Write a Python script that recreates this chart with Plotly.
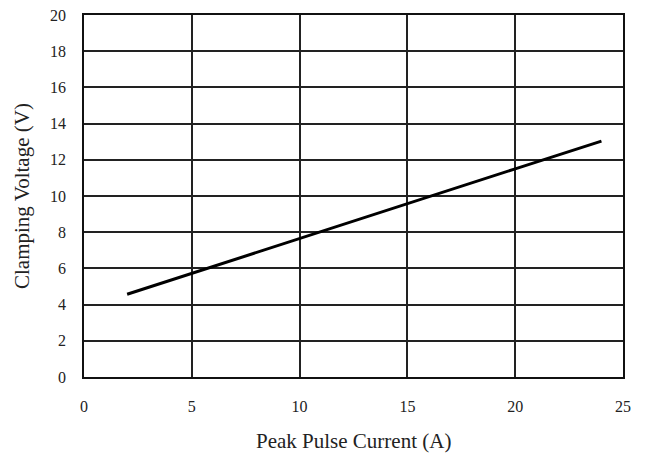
import plotly.graph_objects as go

current = [2, 5, 10, 15, 20, 24]
voltage = [4.57, 5.73, 7.65, 9.57, 11.5, 13.03]

x_ticks = [0, 5, 10, 15, 20, 25]
y_ticks = [0, 2, 4, 6, 8, 10, 12, 14, 16, 18, 20]

x_title = "Peak Pulse Current (A)"
y_title = "Clamping Voltage (V)"

serif = "Liberation Serif, Times New Roman, serif"
font = dict(family=serif, size=16, color="#222")
title_font = dict(family=serif, size=21, color="#222")

fig = go.Figure()
fig.add_trace(go.Scatter(x=current, y=voltage, mode="lines",
                         line=dict(color="black", width=3), showlegend=False))

axis_common = dict(showgrid=True, gridcolor="#222", gridwidth=1.5, showline=True,
                   linecolor="#111", linewidth=1.6, mirror=True, zeroline=False,
                   ticks="", automargin=False)

fig.update_layout(
    width=647, height=454,
    margin=dict(l=84, r=24, t=15, b=77),
    paper_bgcolor="white", plot_bgcolor="white",
    font=font,
    xaxis=dict(range=[0, 25], tickvals=x_ticks, ticklabelstandoff=14, **axis_common),
    yaxis=dict(range=[0, 20], tickvals=y_ticks, ticklabelstandoff=13, **axis_common),
    annotations=[
        dict(text=x_title, xref="paper", yref="paper", x=0.5, y=0, yanchor="middle",
             xanchor="center", yshift=-64, showarrow=False, font=title_font),
        dict(text=y_title, xref="paper", yref="paper", x=0, y=0.5, xanchor="center",
             yanchor="middle", xshift=-62, textangle=-90, showarrow=False,
             font=title_font),
    ],
)

fig.write_html("out.html", config={"displayModeBar": False},
               post_script="document.body.style.margin='0px';")
